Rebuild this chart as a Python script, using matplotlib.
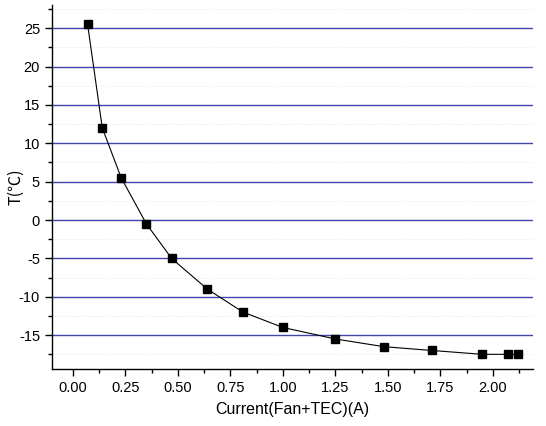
import matplotlib
matplotlib.use("Agg")
import matplotlib.pyplot as plt
from matplotlib.ticker import MultipleLocator, FormatStrFormatter

plt.rcParams['font.family'] = ['Liberation Sans', 'DejaVu Sans']
plt.rcParams['axes.unicode_minus'] = False

# data
current = [0.07, 0.14, 0.23, 0.35, 0.47, 0.64, 0.81, 1.00, 1.25, 1.48, 1.71, 1.95, 2.07, 2.12]
temperature = [25.5, 12.0, 5.5, -0.5, -5.0, -9.0, -12.0, -14.0, -15.5, -16.5, -17.0, -17.5, -17.5, -17.5]

fig = plt.figure(figsize=(5.46, 4.26), dpi=100)
ax = fig.add_axes([0.095, 0.134, 0.881, 0.854])

ax.plot(current, temperature, color='black', linewidth=0.8,
        marker='s', markersize=6, markerfacecolor='black', markeredgecolor='black')

ax.set_xlim(-0.1, 2.19)
ax.set_ylim(-19.4, 28)

ax.xaxis.set_major_locator(MultipleLocator(0.25))
ax.xaxis.set_minor_locator(MultipleLocator(0.125))
ax.xaxis.set_major_formatter(FormatStrFormatter('%.2f'))
ax.yaxis.set_major_locator(MultipleLocator(5))
ax.yaxis.set_minor_locator(MultipleLocator(2.5))

ax.grid(which='major', axis='y', color='#4444b0', linewidth=1.0)
ax.grid(which='minor', axis='y', color='#e4e4e4', linewidth=0.6, linestyle=':')
ax.set_axisbelow(True)

for side in ('top', 'right'):
    ax.spines[side].set_visible(False)
for side in ('left', 'bottom'):
    ax.spines[side].set_linewidth(1.0)

ax.tick_params(which='major', direction='out', length=5, width=1.0, labelsize=10.5)
ax.tick_params(which='minor', direction='out', length=3, width=1.0)

ax.set_xlabel('Current(Fan+TEC)(A)', fontsize=11.5)
ax.xaxis.set_label_coords(0.5, -0.09)
ax.set_ylabel('T(℃)', fontsize=11.5, family=['Noto Sans CJK SC', 'DejaVu Sans'])
ax.yaxis.set_label_coords(-0.058, 0.5)

fig.savefig('out.png', dpi=100)
